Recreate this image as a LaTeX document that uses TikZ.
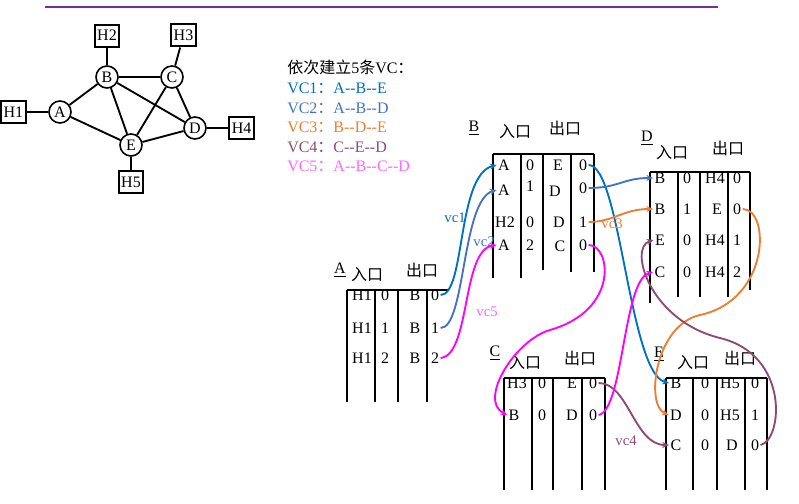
\documentclass[tikz,border=0pt]{standalone}
\usepackage{fontspec}
\setmainfont{Liberation Serif}
\newfontfamily\cjk{Noto Sans CJK SC}
\usetikzlibrary{positioning,arrows.meta}
\definecolor{toprule}{HTML}{7030A0}
\definecolor{vcone}{HTML}{0070C0}
\definecolor{vctwo}{HTML}{4472C4}
\definecolor{vcthree}{HTML}{ED7D31}
\definecolor{vcfour}{HTML}{8E4B72}
\definecolor{vcfive}{HTML}{FF00FF}
\definecolor{vcpink}{HTML}{FF66FF}

\begin{document}
\begin{tikzpicture}[x=0.75pt,y=-0.75pt,node distance=35pt,
        font=\fontsize{12}{14}\selectfont,
        router/.style={circle,draw,line width=1.2pt,minimum size=16.5pt,inner sep=0pt},
        host/.style={rectangle,draw,line width=1.5pt,minimum width=18.5pt,minimum height=16.5pt,inner sep=1pt},
        link/.style={line width=1.4pt},
        cell/.style={inner sep=1pt},
        tabline/.style={line width=2pt},
        hd/.style={font=\fontsize{12}{14}\selectfont\cjk},
        vc/.style={line width=1.4pt,-{Stealth[length=5pt,width=4.5pt]}},
        tag/.style={font=\fontsize{11}{13}\selectfont}]
    \useasboundingbox (0,0) rectangle (799,503);
    \draw[line width=1.5pt,toprule] (45,7) -- (718,7);

    % network
    \node[router] (A) at (60,112) {A};
    \node[router] (B) at (107,77) {B};
    \node[router] (C) at (172,77) {C};
    \node[router] (D) at (195,128) {D};
    \node[router] (E) at (131,145) {E};
    \node[host] (H1) [left of=A] {H1};
    \node[host] (H2) [above of=B,node distance=31pt] {H2};
    \node[host] (H3) at (183.5,35.5) {H3};
    \node[host] (H4) [right of=D] {H4};
    \node[host] (H5) [below of=E,node distance=28pt] {H5};

    \path[link]
    (H1) edge (A)
    (A) edge (B)
        edge (E)
    (B) edge (H2)
        edge (C)
        edge (E)
        edge (D)
    (C) edge (H3)
        edge (E)
        edge (D)
    (D) edge (E)
        edge (H4)
    (E) edge (H5);

    % list of VCs
    \node[anchor=north west,align=left,inner sep=0pt,font=\fontsize{12}{14.7}\selectfont] (vclist) at (287,60)
    {{\cjk 依次建立}5{\cjk 条}VC{\cjk ：}\\
     \textcolor{vcone}{VC1{\cjk ：}A-{}-B-{}-E}\\
     \textcolor{vctwo}{VC2{\cjk ：}A-{}-B-{}-D}\\
     \textcolor{vcthree}{VC3{\cjk ：}B-{}-D-{}-E}\\
     \textcolor{vcfour}{VC4{\cjk ：}C-{}-E-{}-D}\\
     \textcolor{vcpink}{VC5{\cjk ：}A-{}-B-{}-C-{}-D}};

    % table A
    \node (A-name) at (340,270) {\underline{A}};
    \node[hd] (A-inhd) at (367,275) {入口};
    \node[hd] (A-outhd) at (422,270) {出口};
    \draw[tabline] (347,290) -- (448,290) (347,290) -- (347,402) (375,290) -- (375,402)
        (398,290) -- (398,402) (427,290) -- (427,402);
    \node[cell] (A-in1) at (362,295) {H1}; \node[cell] (A-ivc1) at (385,295) {0}; \node[cell] (A-out1) at (415,295) {B}; \node[cell] (A-ovc1) at (435,295) {0};
    \node[cell] (A-in2) at (362,328) {H1}; \node[cell] (A-ivc2) at (385,328) {1}; \node[cell] (A-out2) at (415,328) {B}; \node[cell] (A-ovc2) at (435,328) {1};
    \node[cell] (A-in3) at (362,358) {H1}; \node[cell] (A-ivc3) at (385,358) {2}; \node[cell] (A-out3) at (415,358) {B}; \node[cell] (A-ovc3) at (435,358) {2};

    % table B
    \node (B-name) at (474,128) {\underline{B}};
    \node[hd] (B-inhd) at (515,132) {入口};
    \node[hd] (B-outhd) at (565,128) {出口};
    \draw[tabline] (493,154) -- (594,154) (493,154) -- (493,278) (521,154) -- (521,278)
        (543,154) -- (543,270) (571,154) -- (571,272) (594,154) -- (594,272);
    \node[cell] (B-in1) at (504,165) {A}; \node[cell] (B-ivc1) at (530,165) {0}; \node[cell] (B-out1) at (558,165) {E}; \node[cell] (B-ovc1) at (583,165) {0};
    \node[cell] (B-in2) at (504,190) {A}; \node[cell] (B-ivc2) at (530,186) {1}; \node[cell] (B-out2) at (555,191) {D}; \node[cell] (B-ovc2) at (583,188) {0};
    \node[cell] (B-in3) at (505,222) {H2}; \node[cell] (B-ivc3) at (530,222) {0}; \node[cell] (B-out3) at (559,222) {D}; \node[cell] (B-ovc3) at (583,222) {1};
    \node[cell] (B-in4) at (504,245) {A}; \node[cell] (B-ivc4) at (530,245) {2}; \node[cell] (B-out4) at (560,246) {C}; \node[cell] (B-ovc4) at (583,245) {0};

    % table D
    \node (D-name) at (647,138) {\underline{D}};
    \node[hd] (D-inhd) at (672,153) {入口};
    \node[hd] (D-outhd) at (728,148) {出口};
    \draw[tabline] (650,172) -- (750,172) (650,172) -- (650,303) (678,172) -- (678,297)
        (700,172) -- (700,297) (728,172) -- (728,297) (750,172) -- (750,290);
    \node[cell] (D-in1) at (660,178) {B}; \node[cell] (D-ivc1) at (687,178) {0}; \node[cell] (D-out1) at (715,178) {H4}; \node[cell] (D-ovc1) at (737,178) {0};
    \node[cell] (D-in2) at (660,209) {B}; \node[cell] (D-ivc2) at (687,209) {1}; \node[cell] (D-out2) at (717,209) {E}; \node[cell] (D-ovc2) at (737,209) {0};
    \node[cell] (D-in3) at (660,240) {E}; \node[cell] (D-ivc3) at (687,240) {0}; \node[cell] (D-out3) at (715,240) {H4}; \node[cell] (D-ovc3) at (737,240) {1};
    \node[cell] (D-in4) at (660,272) {C}; \node[cell] (D-ivc4) at (687,272) {0}; \node[cell] (D-out4) at (715,272) {H4}; \node[cell] (D-ovc4) at (737,272) {2};

    % table C
    \node (C-name) at (495,353) {\underline{C}};
    \node[hd] (C-inhd) at (525,363) {入口};
    \node[hd] (C-outhd) at (580,358) {出口};
    \draw[tabline] (504,378) -- (605,378) (504,378) -- (504,490) (532,378) -- (532,490)
        (553,378) -- (553,490) (582,378) -- (582,490) (605,378) -- (605,490);
    \node[cell] (C-in1) at (517,383) {H3}; \node[cell] (C-ivc1) at (542,383) {0}; \node[cell] (C-out1) at (572,383) {E}; \node[cell] (C-ovc1) at (593,383) {0};
    \node[cell] (C-in2) at (514,415) {B}; \node[cell] (C-ivc2) at (542,415) {0}; \node[cell] (C-out2) at (572,415) {D}; \node[cell] (C-ovc2) at (593,415) {0};

    % table E
    \node (E-name) at (659,354) {\underline{E}};
    \node[hd] (E-inhd) at (693,363) {入口};
    \node[hd] (E-outhd) at (740,358) {出口};
    \draw[tabline] (666,378) -- (767,378) (666,378) -- (666,490) (693,378) -- (693,490)
        (717,378) -- (717,490) (745,378) -- (745,490) (767,378) -- (767,490);
    \node[cell] (E-in1) at (676,383) {B}; \node[cell] (E-ivc1) at (705,383) {0}; \node[cell] (E-out1) at (730,383) {H5}; \node[cell] (E-ovc1) at (755,383) {0};
    \node[cell] (E-in2) at (676,415) {D}; \node[cell] (E-ivc2) at (705,415) {0}; \node[cell] (E-out2) at (730,415) {H5}; \node[cell] (E-ovc2) at (755,415) {1};
    \node[cell] (E-in3) at (676,445) {C}; \node[cell] (E-ivc3) at (705,445) {0}; \node[cell] (E-out3) at (732,445) {D}; \node[cell] (E-ovc3) at (755,445) {0};

    % virtual circuits
    \draw[vc,vcone] (A-ovc1.east) .. controls +(25,0) and +(-40,10) .. (B-in1.west);
    \draw[vc,vcone] (B-ovc1.east) .. controls +(32,0) and +(-40,-10) .. (E-in1.west);
    \draw[vc,vctwo] (A-ovc2.east) .. controls +(25,0) and +(-35,10) .. (B-in2.west);
    \draw[vc,vctwo] (B-ovc2.east) .. controls +(30,0) and +(-30,0) .. (D-in1.west);
    \draw[vc,vcthree] (B-ovc3.east) .. controls +(25,0) and +(-30,0) .. (D-in2.west);
    \draw[vc,vcthree] (D-ovc2.east) .. controls +(28,0) and (770,300) .. (700,315)
        .. controls (655,325) and (645,405) .. (E-in2.west);
    \draw[vc,vcfour] (C-ovc1.east) .. controls +(30,0) and +(-35,0) .. (E-in3.west);
    \draw[vc,vcfour] (E-ovc3.east) .. controls +(22,-5) and (790,355) .. (720,338)
        .. controls (650,321) and (628,248) .. (D-in3.west);
    \draw[vc,vcfive] (A-ovc3.east) .. controls +(30,-3) and +(-35,5) .. (B-in4.west);
    \draw[vc,vcfive] (B-ovc4.east) .. controls +(22,0) and (620,310) .. (550,330)
        .. controls (515,340) and (478,400) .. (C-in2.west);
    \draw[vc,vcfive] (C-ovc2.east) .. controls +(25,-5) and +(-30,8) .. (D-in4.west);

    \node[tag,text=vcone] (vc1) at (455,218) {vc1};
    \node[tag,text=vctwo] (vc2) at (484,242) {vc2};
    \node[tag,text=vcthree] (vc3) at (612,224) {vc3};
    \node[tag,text=vcfour] (vc4) at (626,441) {vc4};
    \node[tag,text=vcpink] (vc5) at (487,312) {vc5};
\end{tikzpicture}
\end{document}
